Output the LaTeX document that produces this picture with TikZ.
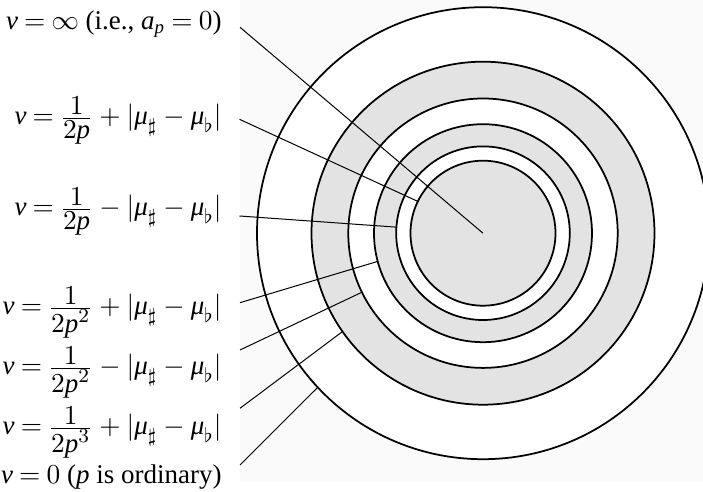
\documentclass[tikz,border=0pt]{standalone}
\usepackage{amsmath,amssymb}
\usepackage{fontspec}
\setmainfont{Liberation Serif}
\usepackage{tikz}
\usetikzlibrary{positioning}
\thickmuskip=4mu plus 2mu
\newcommand\vsym{\mathit{v}}
\newcommand\psym{\mathit{p}}
\newcommand\musym{\textit{μ}}
\newcommand\gapsym{\lvert\musym_{\sharp}-\musym_{\flat}\rvert}
\newcommand\bigfrac[2]{%
  \frac{\textstyle #1\vrule width0pt depth0.8pt}%
       {\textstyle\vrule width0pt height7.6pt #2}}
\tikzset{
  ring/.style = {
    circle, draw=black, line width=0.7pt,
    inner sep=0pt, outer sep=0pt, minimum size=#1*0.8pt
  },
  lab/.style  = {anchor=base east, inner sep=0pt},
  lead/.style = {line width=0.4pt}
}

\begin{document}
\begin{tikzpicture}[
  x=0.4pt, y=-0.4pt,
  every node/.style={font=\fontsize{10.8}{13}\selectfont}
]
\useasboundingbox (0,0) rectangle (703,492);
\clip (0,0) rectangle (703,492);
\fill[black!2] (240,0) rectangle (703,482);

%% ── Rings, outside in ────────────────────────────────
\coordinate (o) at (483,233.2);
\node[ring=226,   fill=white]    (ring1) at (o) {};
\node[ring=171.5, fill=black!11] (ring2) at (o) {};
\node[ring=134.7, fill=white]    (ring3) at (o) {};
\node[ring=109,   fill=black!11] (ring4) at (o) {};
\node[ring=86.8,  fill=white]    (ring5) at (o) {};
\node[ring=72.5,  fill=black!11] (ring6) at (o) {};

%% ── Labels ───────────────────────────────────────────
\node[lab] (l1) at (222,29.3) {$\vsym=\infty$ (i.e., $\mathit{a}_{\psym}=0$)};
\node[lab] (l2) at (222,125)
  {$\vsym=\bigfrac{1}{2\psym}+\gapsym$};
\node[lab] (l3) at (222,216)
  {$\vsym=\bigfrac{1}{2\psym}-\gapsym$};
\node[lab] (l4) at (222,315)
  {$\vsym=\bigfrac{1}{2\psym^2}+\gapsym$};
\node[lab] (l5) at (222,375)
  {$\vsym=\bigfrac{1}{2\psym^2}-\gapsym$};
\node[lab] (l6) at (222,435)
  {$\vsym=\bigfrac{1}{2\psym^3}+\gapsym$};
\node[lab] (l7) at (222,483.3) {$\vsym=0$ ($\psym$ is ordinary)};

%% ── Leader lines ─────────────────────────────────────
\coordinate (s1) at (240,27.3);
\coordinate (s2) at (239.5,119.3);
\coordinate (s3) at (239.5,216);
\coordinate (s4) at (240,302.7);
\coordinate (s5) at (240,350);
\coordinate (s6) at (240,408.3);
\coordinate (s7) at (240,465);

\draw[lead] (s1) -- (ring6.center);
\draw[lead] (s2) -- (ring6.154.8);
\draw[lead] (s3) -- (ring5.176.4);
\draw[lead] (s4) -- (ring4.195.7);
\draw[lead] (s5) -- (ring3.206.2);
\draw[lead] (s6) -- (ring2.215.8);
\draw[lead] (s7) -- (ring1.223.8);

\end{tikzpicture}
\end{document}
